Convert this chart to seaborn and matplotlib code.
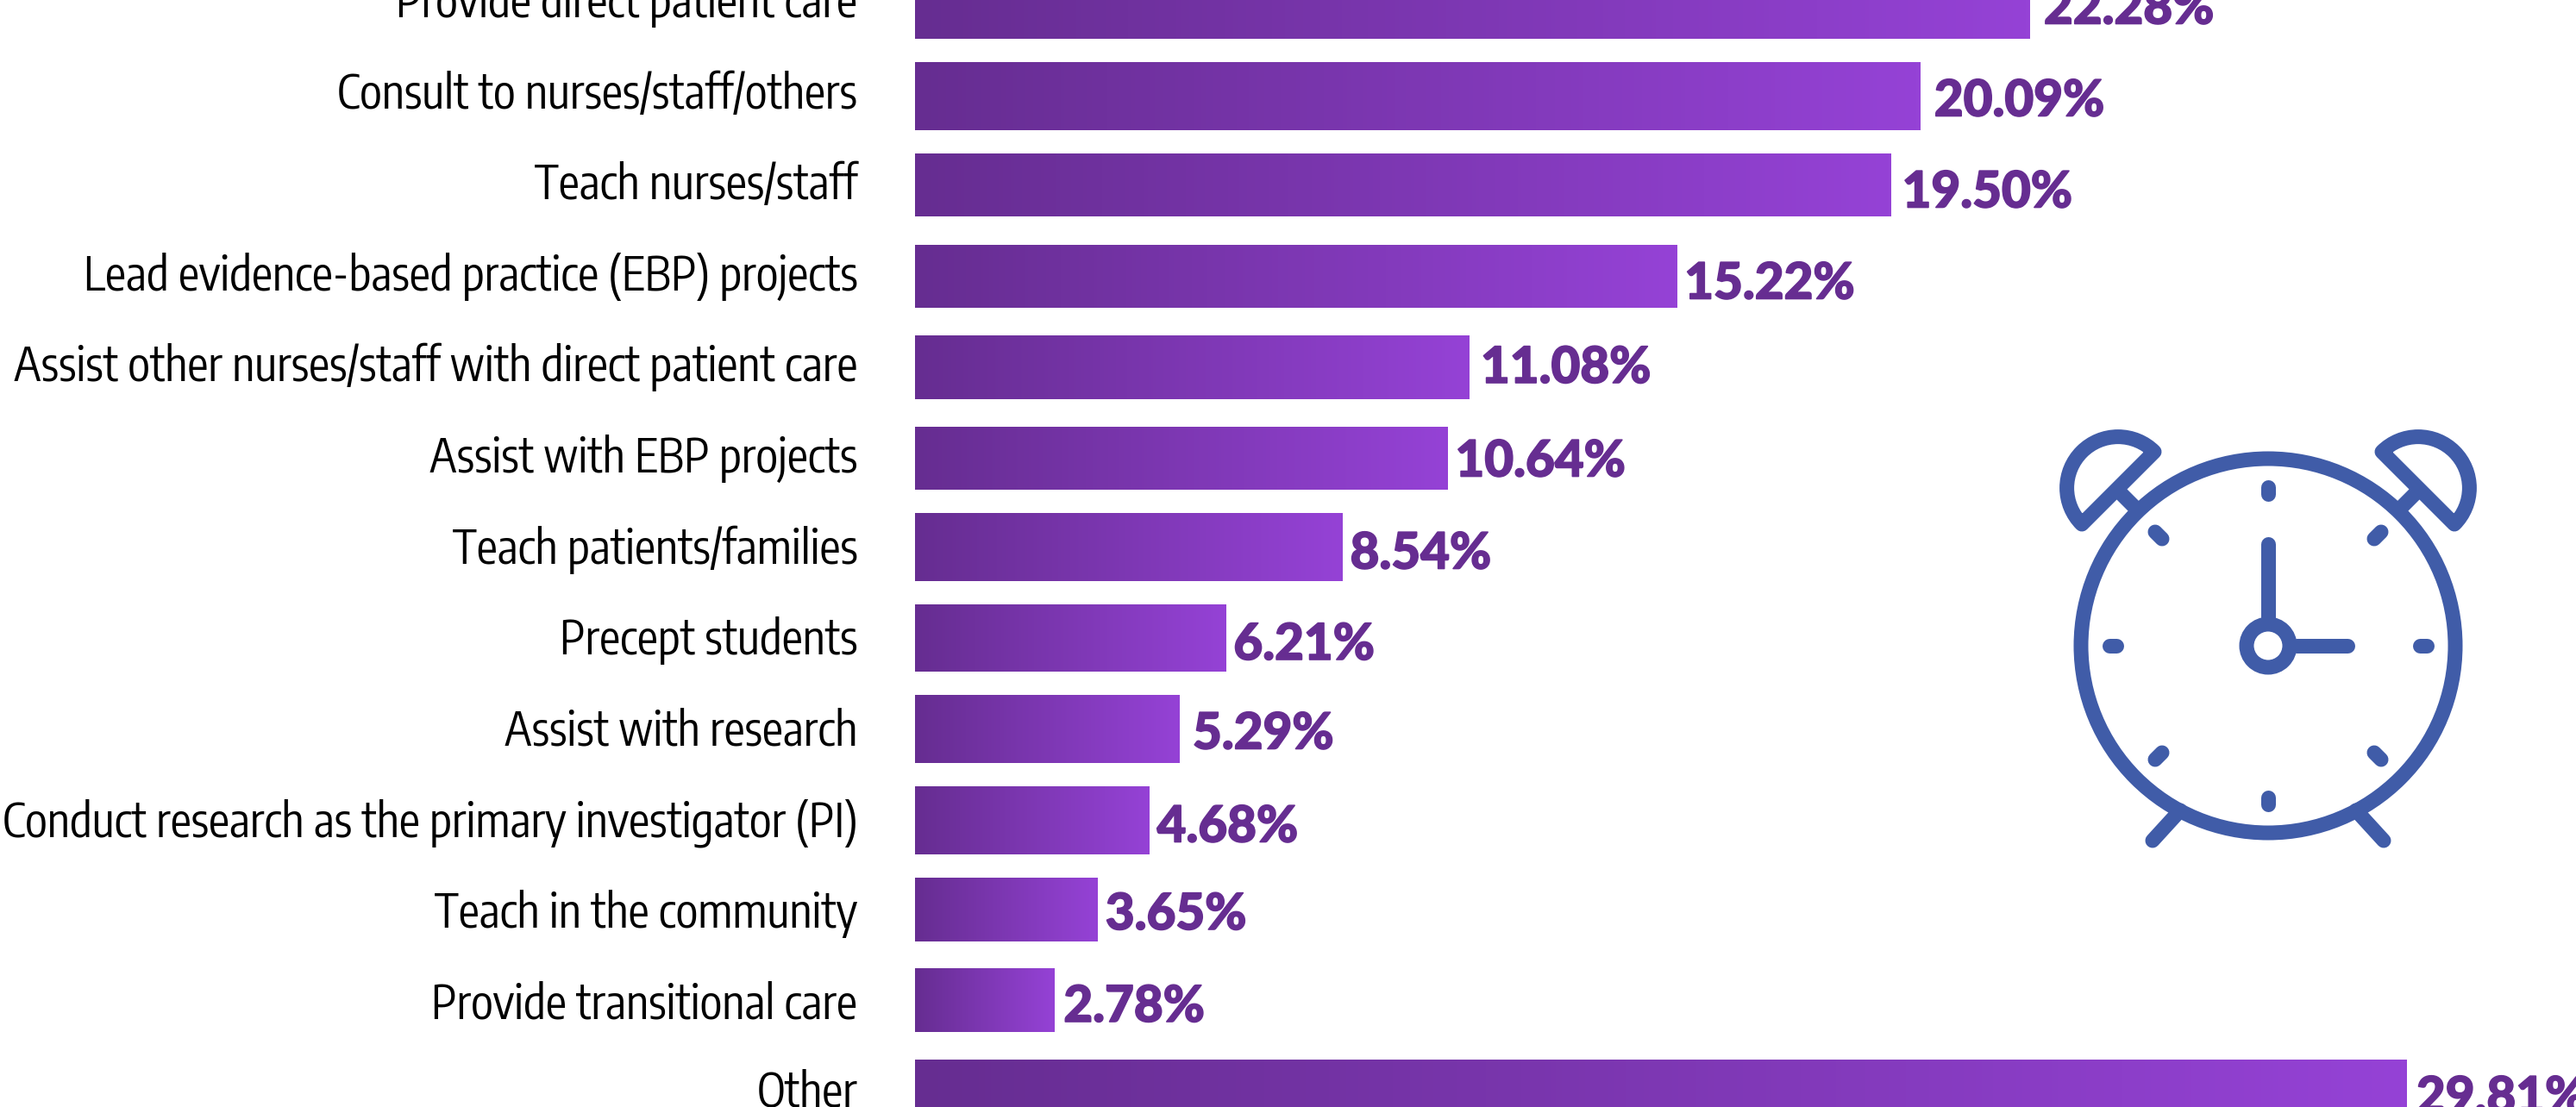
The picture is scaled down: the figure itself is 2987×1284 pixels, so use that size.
import numpy as np
import pandas as pd
import matplotlib
matplotlib.use('Agg')
import matplotlib.pyplot as plt
import matplotlib.patheffects as pe
from matplotlib.colors import LinearSegmentedColormap
from matplotlib.patches import Circle, Wedge
import seaborn as sns

categories = ['Provide direct patient care', 'Consult to nurses/staff/others', 'Teach nurses/staff',
              'Lead evidence-based practice (EBP) projects', 'Assist other nurses/staff with direct patient care',
              'Assist with EBP projects', 'Teach patients/families', 'Precept students', 'Assist with research',
              'Conduct research as the primary investigator (PI)', 'Teach in the community',
              'Provide transitional care', 'Other']
values = [22.28, 20.09, 19.50, 15.22, 11.08, 10.64, 8.54, 6.21, 5.29, 4.68, 3.65, 2.78, 29.81]

# the bars are not evenly spaced in the original: top and bottom edge of each, in pixels
bar_tops = [-32, 72, 178, 284, 389, 495, 595, 701, 806, 912, 1018, 1123, 1229]
bar_bottoms = [45, 151, 251, 357, 463, 568, 674, 779, 885, 991, 1092, 1197, 1306]
# gap between bar end and its label, and label shift down, in pixels
value_gaps = [16, 16, 13, 9, 13, 9, 9, 9, 15, 9, 9, 11, 11]
value_shifts = [-2, 0, 3, 3, -5, -2, 2, 2, 0, 2, 0, 2, 0]

W, H = 2987, 1284
BAR_LEFT = 1061
PX_PER_UNIT = 58.03
ROW = 105.1
FIRST_ROW = 5

sns.set_theme(style='white')
plt.rcParams['font.family'] = ['Encode Sans Condensed', 'Liberation Sans', 'DejaVu Sans']

PURPLE = '#662d91'
BRIGHT = '#9542d6'
BLUE = '#405ca8'

fig = plt.figure(figsize=(W / 100, H / 100), dpi=100)
ax = fig.add_axes([BAR_LEFT / W, 0, 1 - BAR_LEFT / W, 1])

df = pd.DataFrame({'task': categories, 'share': values})
sns.barplot(data=df, x='share', y='task', orient='h', width=0.73, color=PURPLE, ax=ax)


def row_of(px):
    return (px - FIRST_ROW) / ROW


# each bar has its own left to right gradient
ramp = LinearSegmentedColormap.from_list('bar', [PURPLE, BRIGHT])
grad = np.linspace(0, 1, 256).reshape(1, -1)
for i, bar in enumerate(ax.patches):
    top, bottom = row_of(bar_tops[i]), row_of(bar_bottoms[i])
    bar.set_y(top)
    bar.set_height(bottom - top)
    ax.imshow(grad, cmap=ramp, aspect='auto', zorder=3,
              extent=[bar.get_x(), bar.get_x() + bar.get_width(), bottom, top])
    label = ax.annotate(f'{values[i]:.2f}%', (values[i], (top + bottom) / 2),
                        xytext=(value_gaps[i] * 0.72, (-23 - value_shifts[i]) * 0.72), textcoords='offset points',
                        ha='left', va='baseline', fontsize=42, fontweight=900, family='Lato', color=PURPLE)
    # the original numerals are heavier than Lato's
    label.set_path_effects([pe.withStroke(linewidth=1.2, foreground=PURPLE)])

ax.set_xlabel('')
ax.set_ylabel('')
ax.set_xticks([])
# label baselines run on their own pitch; the last one would fall just off the picture
ax.set_yticks([row_of(min(20 + 105.6 * i, H - 1)) for i in range(len(categories))])
ax.set_yticklabels(categories, va='baseline', fontsize=38.7, color='black')
ax.tick_params(axis='y', length=0, pad=48)
for spine in ax.spines.values():
    spine.set_visible(False)
# limits last, ticks past the edge would widen them
ax.set_xlim(0, (W - BAR_LEFT) / PX_PER_UNIT)
ax.set_ylim(row_of(H), row_of(0))

# alarm clock icon, drawn in pixels around its centre
icon = fig.add_axes([0, 0, 1, 1], facecolor='none')
icon.set_xlim(0, W)
icon.set_ylim(H, 0)
icon.axis('off')
CX, CY = 2630, 749
LW = 17 * 0.72


def stroke(u0, v0, u1, v1, cap='round'):
    icon.plot([CX + u0, CX + u1], [CY + v0, CY + v1], color=BLUE, lw=LW, solid_capstyle=cap)


icon.add_patch(Circle((CX, CY), 217, fill=False, ec=BLUE, lw=LW))
icon.add_patch(Circle((CX, CY), 25, fill=False, ec=BLUE, lw=LW))
stroke(0, -118, 0, -33)
stroke(33, 0, 92, 0)
# hour marks
stroke(0, -184, 0, -176)
stroke(0, 184, 0, 176)
stroke(-184, 0, -176, 0)
stroke(184, 0, 176, 0)
for su in (-1, 1):
    for sv in (-1, 1):
        stroke(su * 131, sv * 132, su * 123, sv * 124)
    # bell, stem and foot
    t1, t2 = (135, 315) if su < 0 else (-135, 45)
    icon.add_patch(Wedge((CX + su * 174, CY - 183), 59.4, t1, t2, fill=False, ec=BLUE, lw=LW, joinstyle='round'))
    stroke(su * 175, -181, su * 153, -159, cap='butt')
    stroke(su * 102, 191, su * 134, 226)

fig.savefig('out.png', dpi=100, facecolor='white')
